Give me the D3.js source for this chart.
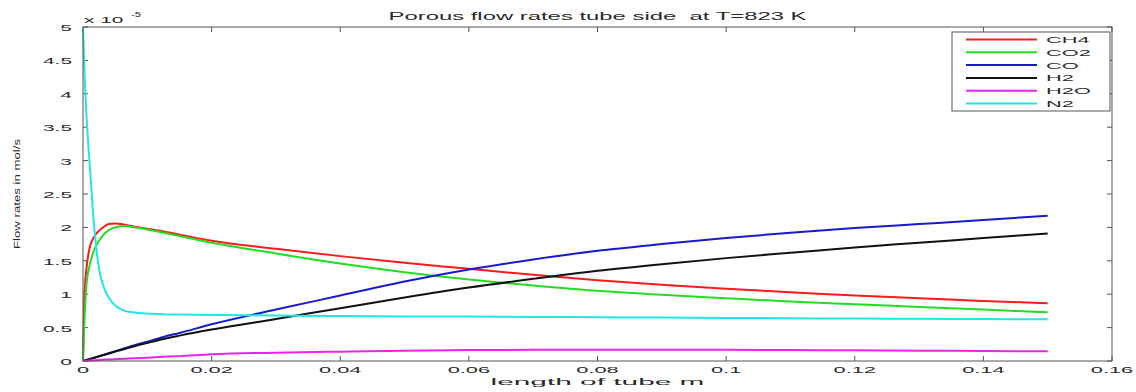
<!DOCTYPE html>
<html>
<head>
<meta charset="utf-8">
<script src="https://cdn.jsdelivr.net/npm/d3@7"></script>
<style>
  body { margin: 0; background: #fff; }
  text { font-family: "Liberation Sans", Arial, sans-serif; fill: #2a2a2a; white-space: pre; }
</style>
</head>
<body>
<div id="chart"></div>
<script>
// tube position (m), shared by all series
let xs = [0, 0.0002, 0.0005, 0.001, 0.0015, 0.002, 0.0025, 0.003, 0.004, 0.005, 0.0065, 0.008, 0.01, 0.0125, 0.015,
  0.02, 0.03, 0.04, 0.05, 0.06, 0.07, 0.08, 0.09, 0.1, 0.11, 0.12, 0.13, 0.14, 0.15];

// flow rates (x 1e-5 mol/s)
let ch4 = [0, 0.95, 1.35, 1.68, 1.82, 1.9, 1.95, 1.99, 2.05, 2.06, 2.04, 2.01, 1.98, 1.94, 1.89,
  1.8, 1.68, 1.57, 1.47, 1.38, 1.29, 1.21, 1.14, 1.08, 1.03, 0.98, 0.94, 0.9, 0.864];
let co2 = [0, 0.55, 1.1, 1.42, 1.6, 1.72, 1.8, 1.87, 1.96, 2.0, 2.02, 2.0, 1.97, 1.92, 1.87,
  1.77, 1.61, 1.46, 1.33, 1.22, 1.13, 1.05, 0.99, 0.94, 0.89, 0.85, 0.81, 0.77, 0.73];
let co = [0, 0.005, 0.013, 0.027, 0.04, 0.055, 0.07, 0.085, 0.115, 0.145, 0.19, 0.235, 0.29, 0.36, 0.42,
  0.55, 0.77, 0.98, 1.19, 1.37, 1.52, 1.65, 1.75, 1.84, 1.92, 1.99, 2.05, 2.11, 2.175];
let h2 = [0, 0.005, 0.014, 0.028, 0.042, 0.056, 0.07, 0.084, 0.112, 0.14, 0.18, 0.22, 0.27, 0.33, 0.38,
  0.47, 0.63, 0.79, 0.95, 1.1, 1.23, 1.35, 1.45, 1.54, 1.62, 1.7, 1.77, 1.84, 1.91];
let h2o = [0, 0.001, 0.003, 0.006, 0.009, 0.012, 0.015, 0.018, 0.023, 0.028, 0.035, 0.042, 0.05, 0.062, 0.073,
  0.1, 0.125, 0.14, 0.155, 0.163, 0.167, 0.168, 0.168, 0.167, 0.164, 0.16, 0.155, 0.15, 0.145];
let n2 = [5.0, 4.4, 3.75, 3.0, 2.3, 1.75, 1.38, 1.17, 0.95, 0.83, 0.75, 0.725, 0.71, 0.7, 0.695,
  0.69, 0.68, 0.672, 0.668, 0.665, 0.66, 0.655, 0.65, 0.645, 0.64, 0.635, 0.631, 0.628, 0.624];

let names = ["CH4", "CO2", "CO", "H2", "H2O", "N2"];
let colors = ["#ff1a1a", "#22dd22", "#1a1acc", "#111111", "#ee22ee", "#22e5e5"];
let xTicks = [0, 0.02, 0.04, 0.06, 0.08, 0.1, 0.12, 0.14, 0.16];
let yTicks = [0, 0.5, 1, 1.5, 2, 2.5, 3, 3.5, 4, 4.5, 5];

let series = [ch4, co2, co, h2, h2o, n2].map((v, i) => ({
  name: names[i],
  color: colors[i],
  values: xs.map((x, j) => ({ x: x, y: v[j] })),
}));

let width = 1136, height = 392;
let margin = { left: 83, right: 24, top: 27, bottom: 31 };
let innerW = width - margin.left - margin.right;
let innerH = height - margin.top - margin.bottom;

let svg = d3.select("#chart").append("svg").attr("width", width).attr("height", height);
let g = svg.append("g").attr("transform", `translate(${margin.left},${margin.top})`);

let x = d3.scaleLinear().domain([0, 0.16]).range([0, innerW]);
let y = d3.scaleLinear().domain([0, 5]).range([innerH, 0]);

// stretched text, like the original figure
function stext(parent, tx, ty, str, size, sx, anchor) {
  return parent.append("text")
    .attr("transform", `translate(${tx},${ty}) scale(${sx},1)`)
    .attr("font-size", size)
    .attr("text-anchor", anchor || "start")
    .text(str);
}

// ticks (inside, all four sides)
let tickCol = "#555";
xTicks.forEach((t) => {
  g.append("line").attr("x1", x(t)).attr("x2", x(t)).attr("y1", innerH).attr("y2", innerH - 5).attr("stroke", tickCol);
  g.append("line").attr("x1", x(t)).attr("x2", x(t)).attr("y1", 0).attr("y2", 5).attr("stroke", tickCol);
  stext(g, x(t), innerH + 12, d3.format("")(t), 9.5, 2.3, "middle");
});
yTicks.forEach((t) => {
  g.append("line").attr("x1", 0).attr("x2", 5).attr("y1", y(t)).attr("y2", y(t)).attr("stroke", tickCol);
  g.append("line").attr("x1", innerW).attr("x2", innerW - 5).attr("y1", y(t)).attr("y2", y(t)).attr("stroke", tickCol);
  stext(g, -11, y(t) + 4, d3.format("")(t), 9.5, 2.2, "end");
});

// curves
let line = d3.line().x((d) => x(d.x)).y((d) => y(d.y)).curve(d3.curveMonotoneX);
g.selectAll(".curve")
  .data(series)
  .join("path")
  .attr("class", "curve")
  .attr("d", (d) => line(d.values))
  .attr("fill", "none")
  .attr("stroke", (d) => d.color)
  .attr("stroke-width", 2);

// axes box
g.append("rect").attr("width", innerW).attr("height", innerH)
  .attr("fill", "none").attr("stroke", tickCol).attr("stroke-width", 1);

// exponent label
stext(g, 1, -4, "x 10", 9.5, 2.2, "start");
stext(g, 48, -10, "-5", 7, 1.6, "start");

// title and axis labels
svg.append("text")
  .attr("x", margin.left + innerW / 2).attr("y", 20)
  .attr("font-size", 11).attr("text-anchor", "middle")
  .attr("textLength", 418).attr("lengthAdjust", "spacingAndGlyphs")
  .text("Porous flow rates tube side  at T=823 K");
svg.append("text")
  .attr("x", margin.left + innerW / 2).attr("y", 385)
  .attr("font-size", 9.5).attr("text-anchor", "middle")
  .attr("textLength", 214).attr("lengthAdjust", "spacingAndGlyphs")
  .text("length of tube m");
svg.append("text")
  .attr("transform", `translate(20,${margin.top + innerH / 2}) rotate(-90)`)
  .attr("font-size", 8.5).attr("text-anchor", "middle")
  .attr("textLength", 110).attr("lengthAdjust", "spacingAndGlyphs")
  .text("Flow rates in mol/s");

// legend
let lg = svg.append("g").attr("transform", "translate(952,32)");
lg.append("rect").attr("width", 158).attr("height", 79)
  .attr("fill", "#fff").attr("stroke", tickCol);
series.forEach((s, i) => {
  let ly = 7.5 + i * 12.8;
  lg.append("line").attr("x1", 14).attr("x2", 85).attr("y1", ly).attr("y2", ly)
    .attr("stroke", s.color).attr("stroke-width", 2);
  stext(lg, 94, ly + 3.5, s.name, 9.5, 2.3, "start");
});
</script>
</body>
</html>
